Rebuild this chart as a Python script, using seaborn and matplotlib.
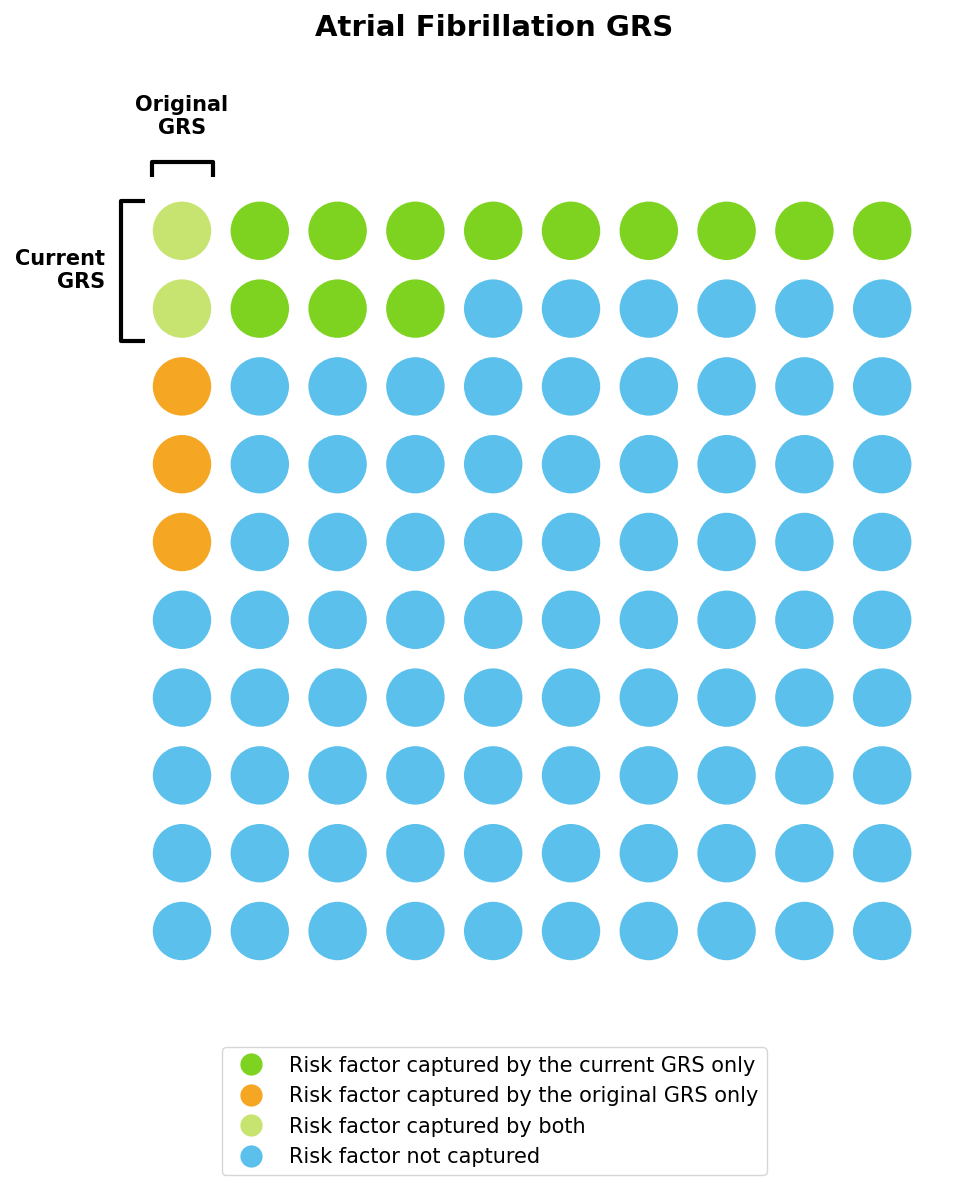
import numpy as np
import pandas as pd
import matplotlib
matplotlib.use("Agg")
import matplotlib.pyplot as plt
import seaborn as sns
from matplotlib.lines import Line2D

sns.set_style("white")
plt.rcParams['font.family'] = ['DejaVu Sans']
plt.rcParams['text.color'] = 'black'

title = "Atrial Fibrillation GRS"
categories = ["current", "original", "both", "none"]
labels = ["Risk factor captured by the current GRS only",
          "Risk factor captured by the original GRS only",
          "Risk factor captured by both",
          "Risk factor not captured"]
colors = ["#7ED321", "#F5A623", "#C6E46F", "#5BC0EB"]

# grid of 10x10 dots, row by row (C=current, O=original, B=both, N=none)
grid_rows = [
    "BCCCCCCCCC",
    "BCCCNNNNNN",
    "ONNNNNNNNN",
    "ONNNNNNNNN",
    "ONNNNNNNNN",
    "NNNNNNNNNN",
    "NNNNNNNNNN",
    "NNNNNNNNNN",
    "NNNNNNNNNN",
    "NNNNNNNNNN",
]
code_map = {"C": "current", "O": "original", "B": "both", "N": "none"}

recs = []
for r, row in enumerate(grid_rows):
    for c, ch in enumerate(row):
        recs.append({"col": c, "row": r, "cat": code_map[ch]})
df = pd.DataFrame(recs)

fig = plt.figure(figsize=(9.75, 11.9), dpi=100)
ax = fig.add_axes([143.1/975, 1 - 969.9/1190, 778/975, 778/1190])

sns.scatterplot(data=df, x="col", y="row", hue="cat", hue_order=categories,
                palette=colors, s=1770, linewidth=0, legend=False, ax=ax)
ax.set_xlim(-0.5, 9.5)
ax.set_ylim(9.5, -0.5)
ax.set_axis_off()

lw = 3.0
# top bracket (Original GRS)
ax.plot([-0.386, -0.386, 0.40, 0.40], [-0.694, -0.887, -0.887, -0.694],
        color="black", lw=lw, clip_on=False, solid_capstyle="butt")
# left bracket (Current GRS)
ax.plot([-0.476, -0.784, -0.784, -0.476], [-0.386, -0.386, 1.414, 1.414],
        color="black", lw=lw, clip_on=False, solid_capstyle="butt")

ax.text(0, -1.47, "Original\nGRS", ha="center", va="center", fontsize=15,
        fontweight="bold", linespacing=1.2, color="black")
ax.text(-0.99, 0.51, "Current\nGRS", ha="right", va="center", fontsize=15,
        fontweight="bold", linespacing=1.2, color="black")

fig.suptitle(title, fontsize=21, fontweight="bold", x=0.507, y=1 - 28/1190,
             va="center", color="black")

handles = [Line2D([0], [0], marker="o", color="w", markerfacecolor=col,
                  markersize=17, linewidth=0) for col in colors]
leg = fig.legend(handles, labels, loc="lower center", bbox_to_anchor=(0.507, 0.0036),
                 fontsize=15, frameon=True, edgecolor="#cccccc", handletextpad=0.8,
                 labelspacing=0.5, borderpad=0.4)
for t in leg.get_texts():
    t.set_color("black")

fig.savefig("out.png", dpi=100)
